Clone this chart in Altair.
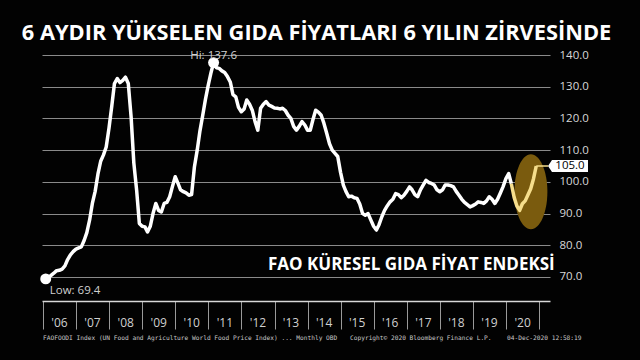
import altair as alt
import pandas as pd

# ---------------- data (FAO Food Price Index, monthly, Jan 2006 - Nov 2020) -------------
v2006 = [69.4, 70.0, 70.5, 71.2, 72.0, 72.1, 72.5, 73.5, 75.5, 77.0, 78.0, 78.8]
v2007 = [79.2, 79.5, 81.5, 84.0, 88.0, 93.2, 97.0, 102.5, 106.5, 108.5, 111.0, 117.0]
v2008 = [124.0, 131.0, 132.6, 131.3, 132.0, 133.0, 131.0, 120.5, 106.0, 97.4, 86.9, 86.0]
v2009 = [85.8, 84.2, 86.0, 90.0, 93.2, 91.0, 90.5, 93.2, 93.5, 95.3, 98.5, 101.6]
v2010 = [99.5, 97.5, 96.9, 96.5, 95.8, 96.0, 104.7, 110.0, 116.0, 121.0, 126.0, 130.5]
v2011 = [134.5, 137.6, 136.0, 135.8, 135.0, 134.5, 133.2, 131.5, 127.5, 126.8, 123.5, 122.1]
v2012 = [123.0, 125.8, 124.5, 122.6, 119.0, 116.3, 123.2, 124.5, 125.3, 124.2, 123.8, 123.3]
v2013 = [123.2, 123.0, 123.2, 122.5, 121.0, 120.0, 117.5, 116.3, 117.5, 119.0, 118.0, 116.3]
v2014 = [116.3, 119.5, 122.6, 122.0, 121.0, 118.5, 115.3, 112.0, 110.0, 109.0, 108.0, 103.0]
v2015 = [99.0, 97.0, 95.3, 95.5, 95.0, 94.8, 93.0, 90.0, 89.5, 90.0, 88.0, 86.0]
v2016 = [84.8, 86.5, 89.0, 91.0, 92.5, 93.7, 94.5, 96.3, 96.0, 95.0, 95.8, 97.0]
v2017 = [98.4, 97.5, 96.0, 95.3, 97.5, 99.0, 100.5, 99.8, 99.5, 99.0, 97.5, 96.9]
v2018 = [97.5, 99.0, 99.0, 98.8, 98.4, 97.0, 95.8, 94.5, 93.5, 92.8, 92.1, 92.5]
v2019 = [93.0, 93.7, 93.5, 93.2, 94.0, 95.3, 94.5, 93.2, 94.5, 96.5, 98.5, 101.0]
v2020 = [102.6, 99.4, 95.1, 92.4, 91.0, 93.1, 94.0, 95.9, 97.8, 101.0, 105.0]

values = (v2006 + v2007 + v2008 + v2009 + v2010 + v2011 + v2012 + v2013 +
          v2014 + v2015 + v2016 + v2017 + v2018 + v2019 + v2020)
dates = pd.date_range("2006-01-01", periods=len(values), freq="MS") + pd.offsets.MonthEnd(0)
df = pd.DataFrame({"date": dates, "value": values})

cut = pd.Timestamp("2020-02-29")
white_df = df[df["date"] <= cut]
yellow_df = df[df["date"] >= cut]

year_labels = ["'06", "'07", "'08", "'09", "'10", "'11", "'12", "'13",
               "'14", "'15", "'16", "'17", "'18", "'19", "'20"]
label_years = list(range(2006, 2021))
years_df = pd.DataFrame({
    "date": [pd.Timestamp(year=y, month=7, day=2) for y in label_years],
    "label": year_labels,
})

extremes_df = pd.DataFrame({
    "date": [pd.Timestamp("2011-02-28"), pd.Timestamp("2006-01-31")],
    "value": [137.6, 69.4],
    "label": ["Hi: 137.6", "Low: 69.4"],
})
last_df = pd.DataFrame({"date": [pd.Timestamp("2020-11-30")], "value": [105.0], "label": ["105.0"]})
ellipse_df = pd.DataFrame({"date": [pd.Timestamp("2020-10-02")], "value": [96.9]})

title_text = "6 AYDIR YÜKSELEN GIDA FİYATLARI 6 YILIN ZİRVESİNDE"
inner_title = "FAO KÜRESEL GIDA FİYAT ENDEKSİ"
footer_1 = "FAOFOODI Index (UN Food and Agriculture World Food Price Index) ...  Monthly OBD"
footer_2 = "Copyright© 2020 Bloomberg Finance L.P."
footer_3 = "04-Dec-2020 12:58:19"
y_ticks = [70, 80, 90, 100, 110, 120, 130, 140]

# ---------------- encodings ----------------
FONT = "Open Sans"
xenc = alt.X(
    "date:T",
    scale=alt.Scale(domain=[alt.DateTime(year=2005, month=12, date=21),
                            alt.DateTime(year=2021, month=5, date=1)]),
    axis=alt.Axis(values=[alt.DateTime(year=y, month=1, date=1) for y in range(2006, 2022)],
                  labels=False, tickSize=28, tickColor="#9a9a9a", tickWidth=1,
                  domainColor="#d8d8d8", domainWidth=1.5, grid=False, title=None),
)
yenc = alt.Y(
    "value:Q",
    scale=alt.Scale(domain=[62.43, 141.58], nice=False, zero=False),
    axis=alt.Axis(orient="right", values=y_ticks, format=".1f", labelColor="#d8d8d8",
                  labelFont=FONT, labelFontSize=11.5, labelPadding=9, grid=True,
                  gridColor="#8a8a8a", gridWidth=1, ticks=False, domain=False, title=None),
)

ellipse_path = "M0,-1 A0.44,1 0 1,1 0,1 A0.44,1 0 1,1 0,-1 Z"
ellipse = alt.Chart(ellipse_df).mark_point(
    shape=ellipse_path, size=5625, filled=True, color="#7a5b0e", opacity=1
).encode(x=xenc, y=yenc)

white_line = alt.Chart(white_df).mark_line(color="white", strokeWidth=3.5, strokeJoin="round").encode(
    x=xenc, y=yenc)
yellow_line = alt.Chart(yellow_df).mark_line(color="#f6de8c", strokeWidth=3.5, strokeJoin="round").encode(
    x=xenc, y=yenc)

dots = alt.Chart(extremes_df).mark_circle(size=120, color="white", opacity=1).encode(x=xenc, y=yenc)
hi_text = alt.Chart(extremes_df.iloc[[0]]).mark_text(
    color="#d0d0d0", font=FONT, fontSize=11.5, dy=-4, baseline="alphabetic", align="center"
).encode(x=xenc, y=yenc, text="label:N")
low_text = alt.Chart(extremes_df.iloc[[1]]).mark_text(
    color="#d0d0d0", font=FONT, fontSize=11.5, dx=4, dy=15, baseline="alphabetic", align="left"
).encode(x=xenc, y=yenc, text="label:N")

connector = alt.Chart(last_df).mark_rule(color="#f6de8c", strokeWidth=1.5).encode(
    x=xenc, x2=alt.value(506), y=yenc)
box_path = "M-1,0 L-0.8,-0.3 L1,-0.3 L1,0.3 L-0.8,0.3 Z"
box = alt.Chart(last_df).mark_point(shape=box_path, size=1600, filled=True, color="white", opacity=1).encode(
    x=alt.value(526), y=yenc)
box_text = alt.Chart(last_df).mark_text(color="black", font=FONT, fontSize=11.5, align="center",
                                        baseline="middle").encode(
    x=alt.value(528), y=yenc, text="label:N")

year_text = alt.Chart(years_df).mark_text(
    color="#d0d0d0", font=FONT, fontSize=12, align="center", baseline="alphabetic"
).encode(x=xenc, y=alt.value(277), text="label:N")

title = alt.Chart(pd.DataFrame({"t": [title_text]})).mark_text(
    color="white", font=FONT, fontWeight="bold", fontSize=21.8, align="center", baseline="alphabetic"
).encode(x=alt.value(274.5), y=alt.value(-10), text="t:N")
inner = alt.Chart(pd.DataFrame({"t": [inner_title]})).mark_text(
    color="white", font=FONT, fontWeight="bold", fontSize=17, align="left", baseline="alphabetic"
).encode(x=alt.value(226), y=alt.value(220), text="t:N")

foot_df = pd.DataFrame({"t": [footer_1, footer_2, footer_3], "px": [1, 308, 465]})
footer = alt.Chart(foot_df).mark_text(
    color="#c8c8c8", font="DejaVu Sans Mono", fontSize=6.2, align="left", baseline="alphabetic"
).encode(x=alt.X("px:Q", scale=None), y=alt.value(289.5), text="t:N")

chart = alt.layer(
    ellipse, white_line, yellow_line, connector, dots, hi_text, low_text, box, box_text,
    year_text, title, inner, footer
).properties(
    width=508, height=251,
    padding={"left": 42, "top": 50, "right": 90, "bottom": 59},
    autosize=alt.AutoSizeParams(type="none"),
    background="#020202",
).configure_view(strokeWidth=0)

chart.save("out.html", embed_options={"renderer": "svg", "actions": False})
